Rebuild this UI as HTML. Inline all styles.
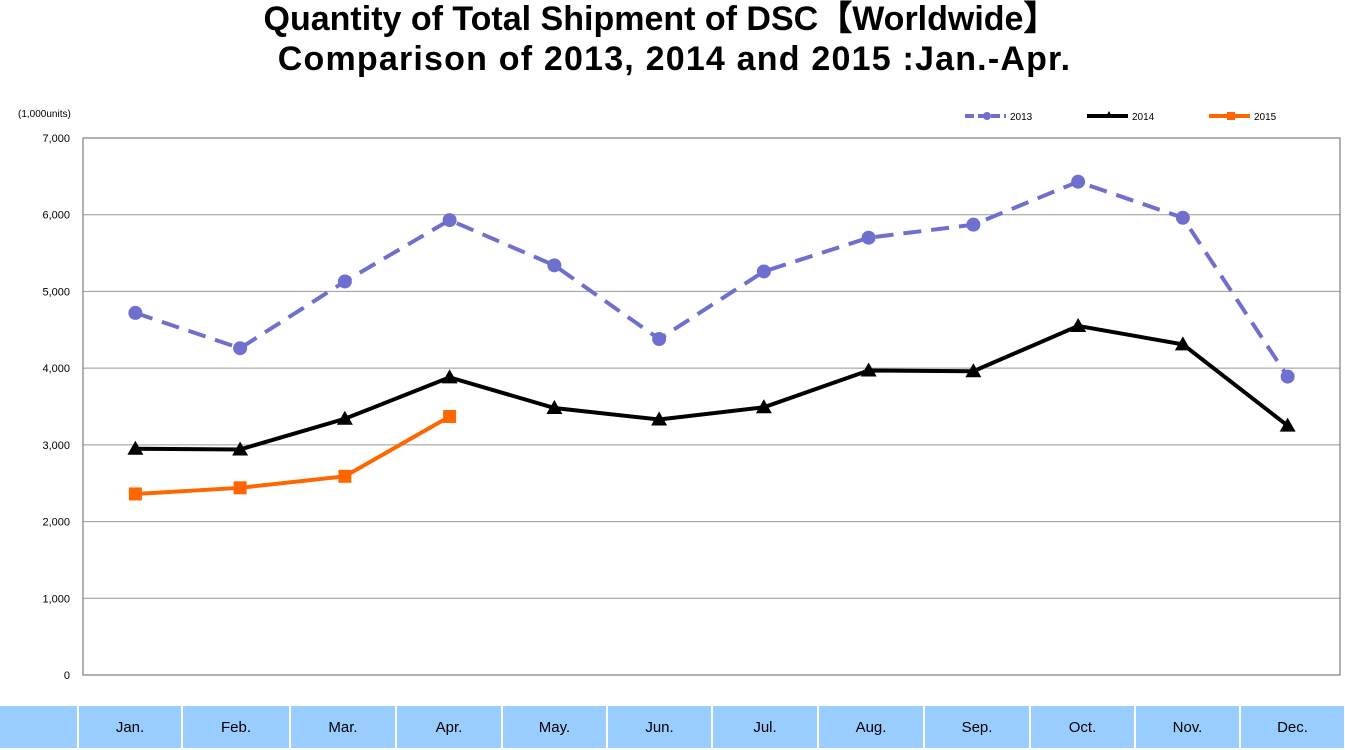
<!DOCTYPE html>
<html><head><meta charset="utf-8">
<style>
body{margin:0;width:1345px;height:748px;background:#fff;overflow:hidden;font-family:"Liberation Sans",sans-serif;position:relative}
.title{position:absolute;left:0;width:1345px;text-align:center;font-weight:bold;font-size:34px;color:#000;white-space:nowrap}
.band{position:absolute;top:706px;height:42px;background:#99ccff;font-size:15px;text-align:center;line-height:44px;color:#000}
</style></head><body>
<div class="title" style="top:-9px;left:-12px">Quantity of Total Shipment of DSC【Worldwide】</div>
<div class="title" style="top:40px;left:2px;letter-spacing:1.2px">Comparison of 2013, 2014 and 2015 :Jan.-Apr.</div>
<svg id="chart" width="1345" height="706" style="position:absolute;left:0;top:0"></svg>
<div id="bandrow"></div>
<script>
const months=["Jan.","Feb.","Mar.","Apr.","May.","Jun.","Jul.","Aug.","Sep.","Oct.","Nov.","Dec."];
const s2013=[4720,4260,5130,5930,5340,4380,5260,5700,5870,6430,5960,3890];
const s2014=[2950,2940,3340,3880,3480,3330,3490,3970,3960,4550,4310,3250];
const s2015=[2360,2440,2590,3370];
const yTicks=[0,1000,2000,3000,4000,5000,6000,7000];
const yTickLabels=["0","1,000","2,000","3,000","4,000","5,000","6,000","7,000"];
const NS="http://www.w3.org/2000/svg";
const svg=document.getElementById('chart');
const L=83,R=1340,T=138,B=675,ymax=7000;
const x=i=>L+(R-L)/months.length*(i+0.5);
const y=v=>B-(B-T)*v/ymax;
function mk(t,a,p){const e=document.createElementNS(NS,t);for(const k in a)e.setAttribute(k,a[k]);(p||svg).appendChild(e);return e;}
yTicks.forEach((v,i)=>{
  const g=mk('line',{x1:L,x2:R,y1:y(v),y2:y(v),stroke:'#999','stroke-width':1});
  
  
  const t=mk('text',{x:70,y:y(v)+4,'text-anchor':'end','font-size':11,'font-family':'Liberation Sans, sans-serif'});
  t.textContent=yTickLabels[i];
  
  
});
const fr=mk('rect',{x:L,y:T,width:R-L,height:B-T,fill:'none',stroke:'#666','stroke-width':1});


const u=mk('text',{x:18,y:117,'font-size':10,'font-family':'Liberation Sans, sans-serif'});
u.textContent='(1,000units)';


function series(vals,color,dash,marker,name){
  const pts=vals.map((v,i)=>x(i)+','+y(v)).join(' ');
  const pl=mk('polyline',{points:pts,fill:'none',stroke:color,'stroke-width':4,'stroke-dasharray':dash||'none'});
  
  
  vals.forEach((v,i)=>{
    let m;
    if(marker==='circle')m=mk('circle',{cx:x(i),cy:y(v),r:7,fill:color});
    else if(marker==='square')m=mk('rect',{x:x(i)-6.5,y:y(v)-6.5,width:13,height:13,fill:color});
    else m=mk('polygon',{points:`${x(i)},${y(v)-8} ${x(i)-8},${y(v)+6} ${x(i)+8},${y(v)+6}`,fill:color});
    
    
  });
}
series(s2013,'#6f6fcf','18,10','circle','2013');
series(s2014,'#000','','triangle','2014');
series(s2015,'#ff6600','','square','2015');
[['2013','#6f6fcf','9,4','circle',965],['2014','#000','','triangle',1087],['2015','#ff6600','','square',1209]].forEach(l=>{
  const g=mk('g',{});
  
  
  mk('line',{x1:l[4],x2:l[4]+41,y1:116,y2:116,stroke:l[1],'stroke-width':4,'stroke-dasharray':l[2]||'none'},g);
  if(l[3]==='circle')mk('circle',{cx:l[4]+22,cy:116,r:4,fill:l[1]},g);
  else if(l[3]==='square')mk('rect',{x:l[4]+18,y:112,width:8,height:8,fill:l[1]},g);
  else mk('polygon',{points:`${l[4]+22},111 ${l[4]+18},118 ${l[4]+26},118`,fill:l[1]},g);
  const t=mk('text',{x:l[4]+45,y:120,'font-size':10,'font-family':'Liberation Sans, sans-serif'},g);
  t.textContent=l[0];
});
const row=document.getElementById('bandrow');
const edges=[0,78,182,290,396,502,607,712,818,924,1030,1135,1240,1345];
for(let i=0;i<13;i++){
  const d=document.createElement('div');
  d.className='band';
  d.style.left=(edges[i]+(i?1:0))+'px';
  d.style.width=(edges[i+1]-edges[i]-(i?2:1))+'px';
  d.textContent=i?months[i-1]:'';
  
  
  row.appendChild(d);
}
</script>
</body></html>
